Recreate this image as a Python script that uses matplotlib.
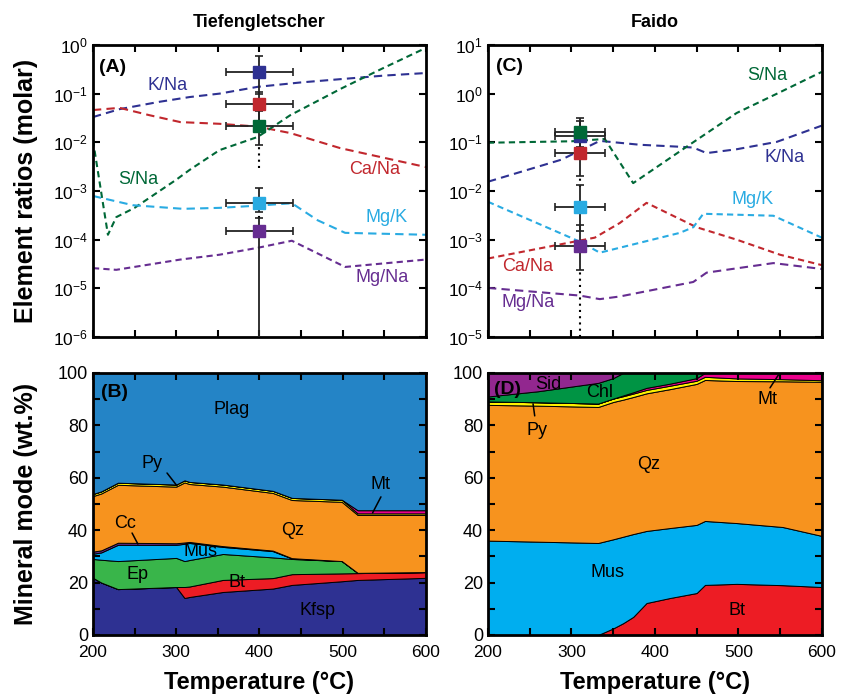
import numpy as np
import matplotlib
matplotlib.use('Agg')
from matplotlib import pyplot as plt
from matplotlib.ticker import MultipleLocator, FixedLocator, NullLocator, NullFormatter

plt.rcParams['font.family'] = ['Liberation Sans', 'DejaVu Sans']
plt.rcParams['mathtext.fontset'] = 'custom'
plt.rcParams['mathtext.rm'] = 'Liberation Sans'
plt.rcParams['mathtext.it'] = 'Liberation Sans:italic'
plt.rcParams['mathtext.bf'] = 'Liberation Sans:bold'

# ---- colours
navy = '#2e3192'
crimson = '#c1272d'
dkgreen = '#006837'
ltblue = '#29abe2'
purple = '#662d91'

# ---- (A) Tiefengletscher fluid ratios
tiefKNaT = [200, 232, 280, 316, 352, 398, 450, 500, 550, 600]
tiefKNa = [0.033, 0.048, 0.068, 0.085, 0.10, 0.138, 0.17, 0.20, 0.235, 0.265]
tiefCaNaT = [200, 232, 268, 305, 352, 398, 437, 497, 600]
tiefCaNa = [0.046, 0.051, 0.036, 0.026, 0.024, 0.021, 0.0155, 0.0076, 0.0031]
tiefSNaT = [200, 218, 228, 250, 300, 316, 352, 398, 437, 499, 548, 600]
tiefSNa = [0.011, 1.26e-4, 2.9e-4, 4.5e-4, 1.7e-3, 2.7e-3, 6.9e-3, 0.0129, 0.036, 0.129, 0.33, 0.87]
tiefMgKT = [200, 248, 308, 352, 398, 439, 470, 503, 600]
tiefMgK = [7.9e-4, 5.1e-4, 4.3e-4, 4.5e-4, 5.0e-4, 5.6e-4, 2.5e-4, 1.38e-4, 1.26e-4]
tiefMgNaT = [200, 228, 305, 352, 398, 439, 503, 600]
tiefMgNa = [2.6e-5, 2.4e-5, 3.9e-5, 4.9e-5, 6.8e-5, 9.5e-5, 2.75e-5, 3.9e-5]

# measured values (square markers) at one temperature
tiefMeasT = 400
tiefMeasTerr = 40
tiefMeas = [0.28, 0.06, 0.022, 5.6e-4, 1.48e-4]      # K/Na, Ca/Na, S/Na, Mg/K, Mg/Na
tiefMeasHi = [0.59, 0.11, 0.045, 1.15e-3, 2.8e-4]
tiefMeasLo = [0.1, 0.025, 0.009, 3.7e-4, 1e-7]
tiefMeasLoDot = [0.1, 0.025, 0.003, 2.8e-4, 1e-7]

# ---- (C) Faido fluid ratios
faiKNaT = [200, 288, 334, 382, 430, 446, 462, 498, 546, 600]
faiKNa = [0.0155, 0.044, 0.107, 0.089, 0.081, 0.078, 0.060, 0.072, 0.102, 0.22]
faiSNaT = [200, 300, 340, 374, 438, 498, 550, 600]
faiSNa = [0.098, 0.105, 0.117, 0.0145, 0.081, 0.40, 1.07, 2.8]
faiCaNaT = [200, 328, 358, 390, 450, 498, 550, 600]
faiCaNa = [4.1e-4, 1.1e-3, 2.2e-3, 5.7e-3, 1.8e-3, 1.0e-3, 4.9e-4, 3.0e-4]
faiMgKT = [200, 310, 334, 430, 446, 458, 542, 600]
faiMgK = [6.0e-3, 9.1e-4, 5.4e-4, 1.38e-3, 1.8e-3, 3.4e-3, 3.1e-3, 1.1e-3]
faiMgNaT = [200, 310, 334, 358, 446, 462, 542, 600]
faiMgNa = [1.02e-4, 7.1e-5, 6.0e-5, 6.8e-5, 1.35e-4, 2.1e-4, 3.3e-4, 2.5e-4]

faiMeasT = 310
faiMeasTerr = 30
faiMeas = [0.135, 0.06, 0.16, 4.6e-3, 7.4e-4]        # K/Na, Ca/Na, S/Na, Mg/K, Mg/Na
faiMeasHi = [0.28, 0.1, 0.31, 0.0135, 2e-3]
faiMeasLo = [0.07, 0.02, 0.08, 1.5e-3, 2.4e-4]
faiMeasLoDot = [0.07, 0.012, 0.08, 1.5e-3, 1e-5]

# ---- (B) Tiefengletscher mineral modes (wt.%)
tiefModeT = [200, 210, 230, 300, 310, 316, 356, 416, 439, 499, 518, 600]
tiefKfsp = [21.8, 20.0, 17.5, 18.3, 14.1, 14.5, 16.4, 17.7, 19.1, 20.5, 21.0, 21.8]
tiefBt = [0.0, 0.0, 0.0, 0.0, 4.2, 4.0, 4.6, 4.0, 4.1, 3.0, 2.6, 2.2]
tiefEp = [7.2, 8.7, 10.7, 11.1, 9.9, 10.1, 9.9, 7.9, 5.8, 4.7, 0.1, 0.0]
tiefMus = [2.0, 2.8, 6.2, 5.0, 6.6, 6.5, 2.7, 2.4, 0.2, 0.0, 0.0, 0.0]
tiefCc = [0.8, 0.8, 0.8, 0.6, 0.5, 0.4, 0.3, 0.2, 0.1, 0.0, 0.0, 0.0]
tiefQz = [21.2, 21.7, 22.1, 21.6, 22.9, 22.1, 22.7, 22.0, 22.2, 22.6, 22.1, 21.8]
tiefPy = [0.8, 0.8, 0.8, 0.8, 0.8, 0.8, 0.8, 0.8, 0.8, 0.8, 0.6, 0.6]
tiefMt = [0.0, 0.0, 0.0, 0.0, 0.0, 0.0, 0.0, 0.0, 0.0, 0.0, 1.2, 1.2]

# ---- (D) Faido mineral modes (wt.%)
faiModeT = [200, 260, 332, 350, 362, 374, 390, 418, 450, 460, 498, 553, 600]
faiBt = [0.0, 0.0, 0.0, 2.5, 4.5, 6.9, 12.2, 14.1, 16.0, 19.1, 19.5, 19.0, 18.3]
faiMus = [36.0, 35.6, 35.1, 34.0, 33.0, 31.6, 27.5, 26.7, 26.0, 24.4, 23.2, 22.2, 19.5]
faiQz = [51.8, 51.9, 51.9, 52.4, 52.3, 52.3, 52.5, 53.0, 53.8, 53.8, 54.2, 55.6, 58.8]
faiPy = [1.3, 1.3, 1.3, 1.3, 1.3, 1.3, 1.3, 1.3, 1.2, 1.2, 1.0, 0.8, 0.6]
faiMt = [0.0, 0.0, 0.0, 0.0, 0.3, 0.5, 0.8, 0.8, 1.0, 1.5, 2.1, 2.4, 2.8]
faiChl = [1.9, 4.2, 7.9, 7.8, 8.6, 7.4, 5.7, 4.1, 2.0, 0.0, 0.0, 0.0, 0.0]

mineralColors = {'Kfsp': '#2e3192', 'Bt': '#ed1c24', 'Ep': '#39b54a', 'Mus': '#00aeef',
                 'Cc': '#662d91', 'Qz': '#f7931e', 'Py': '#fff200', 'Mt': '#ec008c',
                 'Plag': '#2484c6', 'Chl': '#009444', 'Sid': '#92278f'}


def styleAxis(ax):
    for sp in ax.spines.values():
        sp.set_linewidth(2)
    ax.tick_params(which='both', direction='in', top=True, right=True,
                   length=5, width=1.5, labelsize=13)
    ax.tick_params(axis='x', labelsize=12.5, pad=7)
    ax.set_xlim(200, 600)


def ratioPanel(ax, series, measT, measTerr, meas, measHi, measLo, measLoDot, decades):
    for T, vals, col, dash in series:
        ax.plot(T, vals, color=col, lw=1.5, ls=(0, dash))
    cols = [navy, crimson, dkgreen, ltblue, purple]
    for v, hi, lo, lod in zip(meas, measHi, measLo, measLoDot):
        if lod < lo:
            ax.plot([measT, measT], [lod, lo], ls=(0, (1, 2)), color='k', lw=1.5, zorder=3)
        ax.errorbar(measT, v, xerr=measTerr, yerr=[[v - lo], [hi - v]], fmt='none',
                    ecolor='#222222', elinewidth=1.3, capsize=3, capthick=1.2, zorder=3)
    for v, col in zip(meas, cols):
        ax.plot(measT, v, 's', color=col, ms=8.5, zorder=4)
    ax.set_yscale('log')
    styleAxis(ax)
    ax.tick_params(axis='y', labelsize=12.5)
    ax.xaxis.set_major_locator(MultipleLocator(50))
    ax.xaxis.set_major_formatter(NullFormatter())
    ax.yaxis.set_major_locator(FixedLocator([10.0 ** k for k in decades]))
    ax.yaxis.set_minor_locator(NullLocator())
    ax.set_ylim(10.0 ** decades[0], 10.0 ** decades[-1])


def modePanel(ax, T, layers, names):
    ax.stackplot(T, *layers, colors=[mineralColors[n] for n in names],
                 edgecolor='k', linewidth=0.7)
    styleAxis(ax)
    ax.set_ylim(0, 100)
    ax.xaxis.set_major_locator(MultipleLocator(100))
    ax.xaxis.set_minor_locator(MultipleLocator(50))
    ax.yaxis.set_major_locator(MultipleLocator(20))
    ax.yaxis.set_minor_locator(MultipleLocator(10))
    ax.set_xlabel('Temperature (°C)', fontsize=17, fontweight='bold', labelpad=8)


fig = plt.figure(figsize=(8.45, 6.97), dpi=100)
axA = fig.add_axes([0.110, 0.5165, 0.394, 0.419])
axC = fig.add_axes([0.5775, 0.5165, 0.395, 0.419])
axB = fig.add_axes([0.110, 0.089, 0.394, 0.376])
axD = fig.add_axes([0.5775, 0.089, 0.395, 0.376])

d1 = (3, 2)
d2 = (4, 2.5)
ratioPanel(axA, [(tiefKNaT, tiefKNa, navy, d2), (tiefCaNaT, tiefCaNa, crimson, d2),
                 (tiefSNaT, tiefSNa, dkgreen, d1), (tiefMgKT, tiefMgK, ltblue, d2),
                 (tiefMgNaT, tiefMgNa, purple, d1)],
           tiefMeasT, tiefMeasTerr, tiefMeas, tiefMeasHi, tiefMeasLo, tiefMeasLoDot,
           list(range(-6, 1)))
axA.set_title('Tiefengletscher', fontsize=13, fontweight='bold', pad=13)
axA.set_ylabel('Element ratios (molar)', fontsize=18, fontweight='bold')
axA.yaxis.set_label_coords(-0.165, 0.5)
axA.text(224, 0.34, '(A)', fontsize=14, fontweight='bold', ha='center', va='center')
axA.text(290, 0.15, 'K/Na', color=navy, fontsize=13, ha='center', va='center')
axA.text(254, 1.7e-3, 'S/Na', color=dkgreen, fontsize=13, ha='center', va='center')
axA.text(539, 2.7e-3, 'Ca/Na', color=crimson, fontsize=13, ha='center', va='center')
axA.text(553, 2.8e-4, 'Mg/K', color=ltblue, fontsize=13, ha='center', va='center')
axA.text(547, 1.65e-5, 'Mg/Na', color=purple, fontsize=13, ha='center', va='center')

# Faido: K/Na square sits under S/Na, so draw order follows the list
ratioPanel(axC, [(faiKNaT, faiKNa, navy, d2), (faiCaNaT, faiCaNa, crimson, d1),
                 (faiSNaT, faiSNa, dkgreen, d1), (faiMgKT, faiMgK, ltblue, d1),
                 (faiMgNaT, faiMgNa, purple, d2)],
           faiMeasT, faiMeasTerr, faiMeas, faiMeasHi, faiMeasLo, faiMeasLoDot,
           list(range(-5, 2)))
axC.set_title('Faido', fontsize=13, fontweight='bold', pad=13)
axC.text(226, 3.6, '(C)', fontsize=14, fontweight='bold', ha='center', va='center')
axC.text(535, 2.4, 'S/Na', color=dkgreen, fontsize=13, ha='center', va='center')
axC.text(556, 0.048, 'K/Na', color=navy, fontsize=13, ha='center', va='center')
axC.text(517, 6.6e-3, 'Mg/K', color=ltblue, fontsize=13, ha='center', va='center')
axC.text(248, 2.75e-4, 'Ca/Na', color=crimson, fontsize=13, ha='center', va='center')
axC.text(248, 5e-5, 'Mg/Na', color=purple, fontsize=13, ha='center', va='center')

# (B)
tiefPlag = [100 - sum(x) for x in zip(tiefKfsp, tiefBt, tiefEp, tiefMus, tiefCc,
                                          tiefQz, tiefPy, tiefMt)]
modePanel(axB, tiefModeT,
          [tiefKfsp, tiefBt, tiefEp, tiefMus, tiefCc, tiefQz, tiefPy, tiefMt, tiefPlag],
          ['Kfsp', 'Bt', 'Ep', 'Mus', 'Cc', 'Qz', 'Py', 'Mt', 'Plag'])
axB.set_ylabel('Mineral mode (wt.%)', fontsize=18, fontweight='bold')
axB.yaxis.set_label_coords(-0.165, 0.5)
lbl = dict(fontsize=13, ha='center', va='center')
axB.text(226, 92.7, '(B)', fontsize=14, fontweight='bold', ha='center', va='center')
axB.text(367, 85.9, 'Plag', **lbl)
axB.text(440, 40, 'Qz', **lbl)
axB.text(329, 31.7, 'Mus', **lbl)
axB.text(254, 22.9, 'Ep', **lbl)
axB.text(373, 20.2, 'Bt', **lbl)
axB.text(470, 9.5, 'Kfsp', **lbl)
arrow = dict(arrowstyle='-', lw=1.1, color='k', shrinkA=0, shrinkB=0)
axB.annotate('', xy=(301, 56.9), xytext=(289, 61.8), arrowprops=arrow)
axB.text(271, 65.6, 'Py', **lbl)
axB.annotate('', xy=(254, 34.7), xytext=(247, 38.9), arrowprops=arrow)
axB.text(238, 42.7, 'Cc', **lbl)
axB.annotate('', xy=(536, 46.6), xytext=(546, 52.7), arrowprops=arrow)
axB.text(545, 57.3, 'Mt', **lbl)

# (D)
faiSid = [100 - sum(x) for x in zip(faiBt, faiMus, faiQz, faiPy, faiMt, faiChl)]
modePanel(axD, faiModeT, [faiBt, faiMus, faiQz, faiPy, faiMt, faiChl, faiSid],
          ['Bt', 'Mus', 'Qz', 'Py', 'Mt', 'Chl', 'Sid'])
axD.text(223, 93.5, '(D)', fontsize=14, fontweight='bold', ha='center', va='center')
axD.text(272, 95.4, 'Sid', **lbl)
axD.text(334, 92.4, 'Chl', **lbl)
axD.text(392, 64.9, 'Qz', **lbl)
axD.text(343, 24, 'Mus', **lbl)
axD.text(498, 9.5, 'Bt', **lbl)
axD.annotate('', xy=(254, 88.2), xytext=(256, 83.6), arrowprops=arrow)
axD.text(259, 78.2, 'Py', **lbl)
axD.annotate('', xy=(548, 99.2), xytext=(538, 94.3), arrowprops=arrow)
axD.text(535, 89.7, 'Mt', **lbl)

fig.savefig('out.png', dpi=100)
